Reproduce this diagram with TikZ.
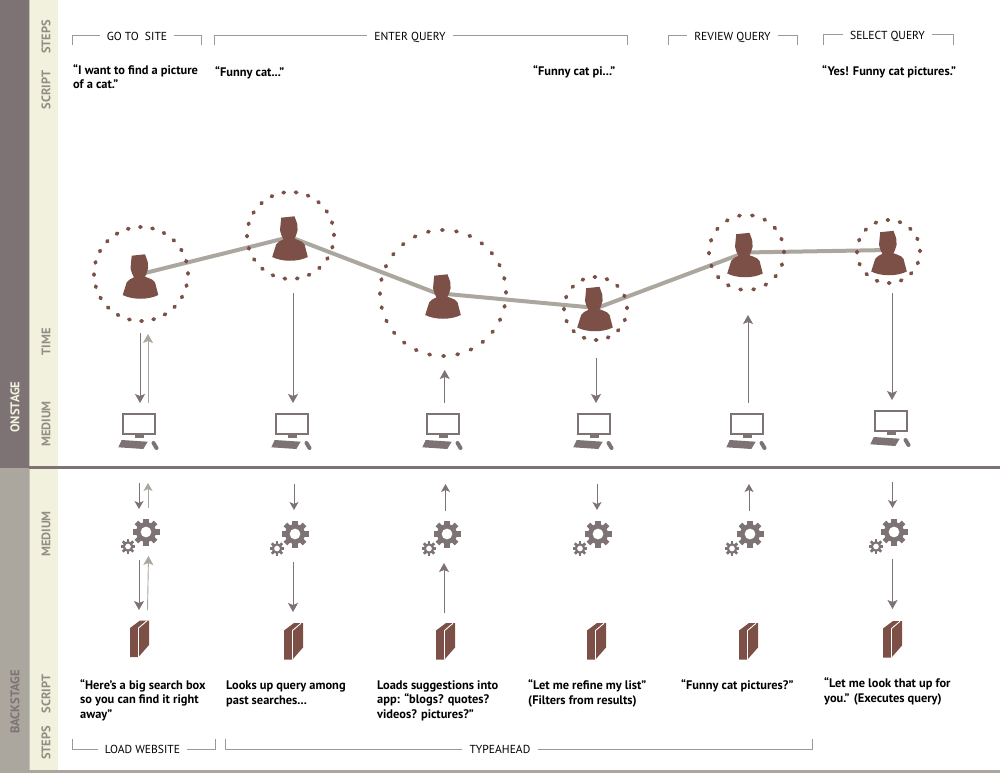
\documentclass[tikz,border=0pt]{standalone}
\usepackage{fontspec}
\setmainfont{PT Sans}
\usetikzlibrary{arrows.meta}
\definecolor{slate}{HTML}{7D7375}
\definecolor{stone}{HTML}{ABA69E}
\definecolor{cream}{HTML}{F2F1DD}
\definecolor{rust}{HTML}{7D5047}
\definecolor{tick}{HTML}{9A9A9A}
\tikzset{
	scripttext/.style={anchor=base west, align=left, inner sep=0pt, font=\fontsize{12.4}{14.5}\selectfont\bfseries},
	steptop/.style={inner xsep=7pt, inner ysep=0pt, text height=10pt, text depth=0pt, font=\fontsize{11.6}{12}\selectfont},
	stepbottom/.style={inner xsep=7pt, inner ysep=0pt, text height=7pt, text depth=0pt, font=\fontsize{11.6}{12}\selectfont},
	striplabel/.style={rotate=90, inner sep=0pt, text=stone!85!black, font=\fontsize{12.4}{12}\selectfont\bfseries},
	bandlabel/.style={rotate=90, inner sep=0pt, font=\fontsize{12.6}{12}\selectfont\bfseries},
	bracket/.style={draw=tick, line width=1pt},
	ring/.style={circle, draw=rust, line width=3.8pt, line cap=round, dash pattern=on 1.2pt off #1, inner sep=0pt},
	flowdark/.style={draw=slate, line width=0.9pt, -{Stealth[length=9pt,width=10pt,inset=2pt]}},
	flowlight/.style={draw=stone, line width=0.9pt, -{Stealth[length=9pt,width=10pt,inset=2pt]}},
	flowshort/.style={draw=slate, line width=0.9pt, -{Stealth[length=8pt,width=9pt,inset=2pt]}},
	flowshortlight/.style={draw=stone, line width=0.9pt, -{Stealth[length=8pt,width=9pt,inset=2pt]}},
	person/.pic={
		\fill[rust] (-8.8,-20.8) -- (4.5,-22.2) -- (7.2,-14.8) -- (7.6,-8.2) -- (6,-3) -- (4.5,0.2)
			.. controls (12,3) and (14,4) .. (14.5,5.8) -- (17.8,18.5)
			.. controls (8,23.5) and (-8,23.5) .. (-17.8,18.5) -- (-13.8,5.8)
			.. controls (-12,3) and (-9,2) .. (-6.5,0.8) -- (-8.5,-3) -- (-10,-8.2) -- cycle;
	},
	monitor/.pic={
		\draw[slate, line width=2pt] (-15.7,1) rectangle (15.7,21);
		\fill[slate] (-4,22) rectangle (5.3,25);
		\fill[slate] (-17.3,27) -- (8.7,28.7) -- (4.3,36) -- (-20.7,34.3) -- cycle;
		\draw[slate, line width=4pt, line cap=round] (14.5,30) -- (17.5,35);
	},
	cogwheel/.pic={
		\fill[slate, even odd rule] (0,0) circle (10) (0,0) circle (5.5);
		\foreach \a in {0,45,...,315}
			\fill[slate, rotate=\a] (-2.6,-13.5) rectangle (2.6,-9);
	},
	gearset/.pic={
		\pic at (0,0) {cogwheel};
		\pic[scale=0.54] at (-18,14.5) {cogwheel};
	},
	book/.pic={
		\fill[rust] (0,8) -- (10,0.5) -- (19,0.5) -- (19,25) -- (8.5,37) -- (0,37) -- cycle;
		\draw[white, line width=0.9pt] (8.5,37) -- (8.5,8) -- (17,0.8);
	},
}
\begin{document}
\begin{tikzpicture}[x=1pt, y=-1pt]
			\useasboundingbox (0,0) rectangle (1000,773);

			\fill[slate] (0,0) rectangle (29,468);
			\fill[stone] (0,468) rectangle (29,773);
			\fill[cream] (29,0) rectangle (58,773);
			\fill[stone!70] (29,0) rectangle (30,773);
			\fill[slate] (29,465.5) rectangle (1000,468.5);
			\fill[stone] (29,769.5) rectangle (1000,773);

			\node[bandlabel, text=cream] (onstage) at (15,407){ONSTAGE};
			\node[bandlabel, text=slate] (backstage) at (15,702){BACKSTAGE};
			\node[striplabel] (stepsup) at (46,37){STEPS};
			\node[striplabel] (scriptup) at (46,90){SCRIPT};
			\node[striplabel] (timeup) at (46,342){TIME};
			\node[striplabel] (mediumup) at (46,424){MEDIUM};
			\node[striplabel] (mediumlow) at (46,534){MEDIUM};
			\node[striplabel] (scriptlow) at (46,694){SCRIPT};
			\node[striplabel] (stepslow) at (46,743){STEPS};

			\coordinate (goa) at (72.5,45);
			\coordinate (gob) at (201.5,45);
			\coordinate (entera) at (214.5,45);
			\coordinate (enterb) at (627,45);
			\coordinate (reviewa) at (668,45);
			\coordinate (reviewb) at (797,45);
			\coordinate (selecta) at (823.5,45);
			\coordinate (selectb) at (953,45);
			\coordinate (loada) at (72.5,739);
			\coordinate (loadb) at (215,739);
			\coordinate (typea) at (225.5,739);
			\coordinate (typeb) at (812,739);

			\node[steptop] (gosite) at (137,35.5){GO TO\ \ SITE};
			\node[steptop] (enterquery) at (410,35.5){ENTER QUERY};
			\node[steptop] (reviewquery) at (732.5,35.5){REVIEW QUERY};
			\node[steptop] (selectquery) at (887.5,35){SELECT QUERY};
			\node[stepbottom] (loadsite) at (142.5,749.5){LOAD WEBSITE};
			\node[stepbottom] (typeahead) at (500,749.5){TYPEAHEAD};

			\path[bracket] (goa) |- (gosite.west) (gosite.east) -| (gob);
			\path[bracket] (entera) |- (enterquery.west) (enterquery.east) -| (enterb);
			\path[bracket] (reviewa) |- (reviewquery.west) (reviewquery.east) -| (reviewb);
			\path[bracket] (selecta) |- (selectquery.west) (selectquery.east) -| (selectb);
			\path[bracket] (loada) |- (loadsite.west) (loadsite.east) -| (loadb);
			\path[bracket] (typea) |- (typeahead.west) (typeahead.east) -| (typeb);

			\node[scripttext] (say1) at (73,89){“I want to find a picture\\of a cat.”};
			\node[scripttext] (say2) at (215,77){“Funny cat...”};
			\node[scripttext] (say3) at (533,76){“Funny cat pi...”};
			\node[scripttext] (say4) at (822,76){“Yes! Funny cat pictures.”};
			\node[scripttext] (back1) at (80,718){“Here’s a big search box\\so you can find it right\\away”};
			\node[scripttext] (back2) at (226,704){Looks up query among\\past searches...};
			\node[scripttext] (back3) at (377,718){Loads suggestions into\\app: “blogs? quotes?\\videos? pictures?”};
			\node[scripttext] (back4) at (528,704){“Let me refine my list”\\(Filters from results)};
			\node[scripttext] (back5) at (681,689){“Funny cat pictures?”};
			\node[scripttext] (back6) at (824,702){“Let me look that up for\\you.” (Executes query)};

			\coordinate (j1) at (145,273);
			\coordinate (j2) at (290,237);
			\coordinate (j3) at (436,293);
			\coordinate (j4) at (597,308);
			\coordinate (j5) at (745,252.5);
			\coordinate (j6) at (889,250);
			\path[draw=stone, line width=4pt, line join=round] (j1) -- (j2) -- (j3) -- (j4) -- (j5) -- (j6);

			\node[ring=11.1pt, minimum size=94pt] (ring1) at (141,274){};
			\node[ring=11.22pt, minimum size=87pt] (ring2) at (290.5,235.5){};
			\node[ring=12.94pt, minimum size=126pt] (ring3) at (443,293){};
			\node[ring=11.17pt, minimum size=63pt] (ring4) at (595.5,308.5){};
			\node[ring=11.89pt, minimum size=75pt] (ring5) at (746.5,252.5){};
			\node[ring=11.17pt, minimum size=63pt] (ring6) at (888.5,251.5){};

			\pic at (140.5,276.5) {person};
			\pic at (290,238.5) {person};
			\pic at (443,296.5) {person};
			\pic at (595,309) {person};
			\pic at (745,255) {person};
			\pic at (889,253) {person};

			\pic at (139,413) {monitor};
			\pic at (292,413) {monitor};
			\pic at (443,413) {monitor};
			\pic at (594,413) {monitor};
			\pic at (747,413) {monitor};
			\pic at (891,410) {monitor};

			\pic at (146,532) {gearset};
			\pic at (295,534) {gearset};
			\pic at (447,534) {gearset};
			\pic at (598,534) {gearset};
			\pic at (750,534) {gearset};
			\pic at (894,532) {gearset};

			\pic at (130,620) {book};
			\pic at (284,622.5) {book};
			\pic at (436,622.5) {book};
			\pic at (587,622.5) {book};
			\pic at (739,622.5) {book};
			\pic at (883,620.5) {book};

			\coordinate (ua) at (140,333);
			\coordinate (ub) at (140,403);
			\coordinate (uc) at (148,403);
			\coordinate (ud) at (148,334);
			\coordinate (ue) at (293,293);
			\coordinate (uf) at (293,403);
			\coordinate (ug) at (444.7,403);
			\coordinate (uh) at (444.7,370);
			\coordinate (ui) at (596,358);
			\coordinate (uj) at (596,403);
			\coordinate (uk) at (748,403);
			\coordinate (ul) at (748,315);
			\coordinate (um) at (892,293);
			\coordinate (un) at (892,400);

			\path (ua) edge[flowdark] (ub);
			\path (uc) edge[flowlight] (ud);
			\path (ue) edge[flowdark] (uf);
			\path (ug) edge[flowdark] (uh);
			\path (ui) edge[flowdark] (uj);
			\path (uk) edge[flowdark] (ul);
			\path (um) edge[flowdark] (un);

			\coordinate (ma) at (139,483);
			\coordinate (mb) at (139,509);
			\coordinate (mc) at (148,508);
			\coordinate (md) at (148,483);
			\coordinate (me) at (294,484);
			\coordinate (mf) at (294,510);
			\coordinate (mg) at (445.5,511);
			\coordinate (mh) at (445.5,484);
			\coordinate (mi) at (597,484);
			\coordinate (mj) at (597,510);
			\coordinate (mk) at (749,511);
			\coordinate (ml) at (749,484);
			\coordinate (mm) at (892.5,482);
			\coordinate (mn) at (892.5,508);

			\path (ma) edge[flowshort] (mb);
			\path (mc) edge[flowshortlight] (md);
			\path (me) edge[flowshort] (mf);
			\path (mg) edge[flowshort] (mh);
			\path (mi) edge[flowshort] (mj);
			\path (mk) edge[flowshort] (ml);
			\path (mm) edge[flowshort] (mn);

			\coordinate (da) at (139,560);
			\coordinate (db) at (139,610);
			\coordinate (dc) at (147.5,610);
			\coordinate (dd) at (148.5,556);
			\coordinate (de) at (293,562);
			\coordinate (df) at (293,612);
			\coordinate (dg) at (444,613);
			\coordinate (dh) at (444,563);
			\coordinate (di) at (892.5,559);
			\coordinate (dj) at (892.5,609);

			\path (da) edge[flowdark] (db);
			\path (dc) edge[flowlight] (dd);
			\path (de) edge[flowdark] (df);
			\path (dg) edge[flowdark] (dh);
			\path (di) edge[flowdark] (dj);
			\end{tikzpicture}
\end{document}
